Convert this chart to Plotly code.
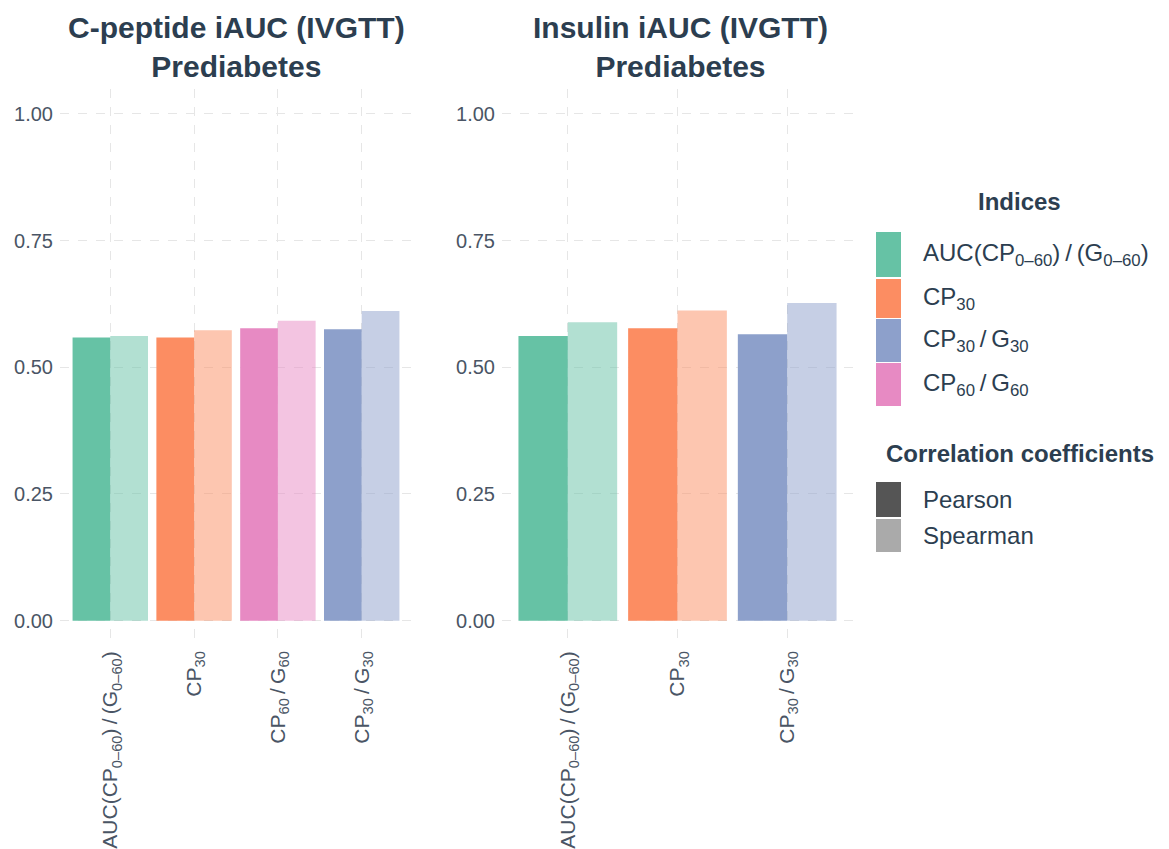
import plotly.graph_objects as go

W, H = 1169, 849

# ---- data -------------------------------------------------------------
left_categories = ["AUC", "CP30", "CP60/G60", "CP30/G30"]
left_pearson = [0.559, 0.559, 0.577, 0.575]
left_spearman = [0.562, 0.573, 0.592, 0.611]

right_categories = ["AUC", "CP30", "CP30/G30"]
right_pearson = [0.562, 0.577, 0.565]
right_spearman = [0.589, 0.612, 0.627]

index_labels = {
    "AUC": "AUC(CP<sub>0\u201360</sub>)\u2009/\u2009(G<sub>0\u201360</sub>)",
    "CP30": "CP<sub>30</sub>",
    "CP30/G30": "CP<sub>30</sub>\u2009/\u2009G<sub>30</sub>",
    "CP60/G60": "CP<sub>60</sub>\u2009/\u2009G<sub>60</sub>",
}
index_colors = {
    "AUC": (102, 194, 165),
    "CP30": (252, 141, 98),
    "CP30/G30": (141, 160, 203),
    "CP60/G60": (231, 138, 195),
}
legend_order = ["AUC", "CP30", "CP30/G30", "CP60/G60"]
panel_titles = ["C-peptide iAUC (IVGTT)<br>Prediabetes",
                "Insulin iAUC (IVGTT)<br>Prediabetes"]
y_ticks = [0, 0.25, 0.5, 0.75, 1.0]
y_ticktext = ["0.00", "0.25", "0.50", "0.75", "1.00"]

TITLE_COLOR = "#2c3e50"
TICK_COLOR = "#4a5565"
GRID = "#e6e6e6"
FONT = "Liberation Sans, Arial, sans-serif"


def rgba(c, a):
    return f"rgba({c[0]},{c[1]},{c[2]},{a})"


def px_x(x):
    return x / W


def px_y(y):
    return 1 - y / H


fig = go.Figure()

panels = [
    ("x", "y", left_categories, left_pearson, left_spearman),
    ("x2", "y2", right_categories, right_pearson, right_spearman),
]
for xa, ya, cats, pear, spear in panels:
    fig.add_trace(go.Bar(
        x=cats, y=pear, xaxis=xa, yaxis=ya, offsetgroup="p",
        marker=dict(color=[rgba(index_colors[c], 1) for c in cats], line=dict(width=0)),
        name="Pearson", showlegend=False,
    ))
    fig.add_trace(go.Bar(
        x=cats, y=spear, xaxis=xa, yaxis=ya, offsetgroup="s",
        marker=dict(color=[rgba(index_colors[c], 0.5) for c in cats], line=dict(width=0)),
        name="Spearman", showlegend=False,
    ))

axis_common_x = dict(
    type="category", showgrid=True, gridcolor=GRID, griddash="dash", gridwidth=1.2,
    zeroline=False, showline=False, ticks="", tickangle=-90,
    tickfont=dict(size=21, color=TICK_COLOR, family=FONT),
)
axis_common_y = dict(
    range=[-0.05, 1.05], tickvals=y_ticks, ticktext=y_ticktext,
    showgrid=True, gridcolor=GRID, griddash="dash", gridwidth=1.2,
    zeroline=False, showline=False, ticks="", ticklabelstandoff=6,
    tickfont=dict(size=20, color=TICK_COLOR, family=FONT),
)

y_dom = [px_y(646), px_y(88.6)]
fig.update_layout(
    width=W, height=H, autosize=False,
    margin=dict(l=0, r=0, t=0, b=0),
    paper_bgcolor="white", plot_bgcolor="white",
    barmode="group", bargap=0.1, bargroupgap=0,
    showlegend=False,
    font=dict(family=FONT),
    xaxis=dict(domain=[px_x(60), px_x(412)], anchor="y",
               range=[-0.6, len(left_categories) - 0.4],
               tickvals=left_categories,
               ticktext=[index_labels[c] for c in left_categories],
               **axis_common_x),
    yaxis=dict(domain=y_dom, anchor="x", **axis_common_y),
    xaxis2=dict(domain=[px_x(502), px_x(853)], anchor="y2",
                range=[-0.6, len(right_categories) - 0.4],
                tickvals=right_categories,
                ticktext=[index_labels[c] for c in right_categories],
                **axis_common_x),
    yaxis2=dict(domain=y_dom, anchor="x2", **axis_common_y),
)

# panel titles
for cx, t in zip([236, 680], panel_titles):
    fig.add_annotation(
        x=px_x(cx), y=px_y(47), xref="paper", yref="paper",
        text="<b>" + t.replace("<br>", "</b><br><b>") + "</b>",
        showarrow=False, xanchor="center", yanchor="middle",
        font=dict(size=30, color=TITLE_COLOR, family=FONT),
    )

# legend: indices
fig.add_annotation(x=px_x(1020), y=px_y(201), xref="paper", yref="paper",
                   text="<b>Indices</b>", showarrow=False, xanchor="center", yanchor="middle",
                   font=dict(size=24, color=TITLE_COLOR, family=FONT))
swatch_rows = [(232, 277), (279, 318), (319, 362), (363, 406)]
for key, (y0, y1) in zip(legend_order, swatch_rows):
    fig.add_shape(type="rect", xref="paper", yref="paper",
                  x0=px_x(876), x1=px_x(901), y0=px_y(y1), y1=px_y(y0),
                  fillcolor=rgba(index_colors[key], 1), line=dict(width=0))
    fig.add_annotation(x=px_x(921), y=px_y((y0 + y1) / 2), xref="paper", yref="paper",
                       text=index_labels[key], showarrow=False, xanchor="left", yanchor="middle",
                       font=dict(size=24, color=TITLE_COLOR, family=FONT))

# legend: correlation coefficients
fig.add_annotation(x=px_x(1020), y=px_y(453), xref="paper", yref="paper",
                   text="<b>Correlation coefficients</b>", showarrow=False,
                   xanchor="center", yanchor="middle",
                   font=dict(size=24, color=TITLE_COLOR, family=FONT))
for name, color, (y0, y1) in [("Pearson", "#555555", (482, 517)),
                              ("Spearman", "#aaaaaa", (519, 552))]:
    fig.add_shape(type="rect", xref="paper", yref="paper",
                  x0=px_x(876), x1=px_x(901), y0=px_y(y1), y1=px_y(y0),
                  fillcolor=color, line=dict(width=0))
    fig.add_annotation(x=px_x(921), y=px_y((y0 + y1) / 2), xref="paper", yref="paper",
                       text=name, showarrow=False, xanchor="left", yanchor="middle",
                       font=dict(size=24, color=TITLE_COLOR, family=FONT))

fig.write_html("out.html")
